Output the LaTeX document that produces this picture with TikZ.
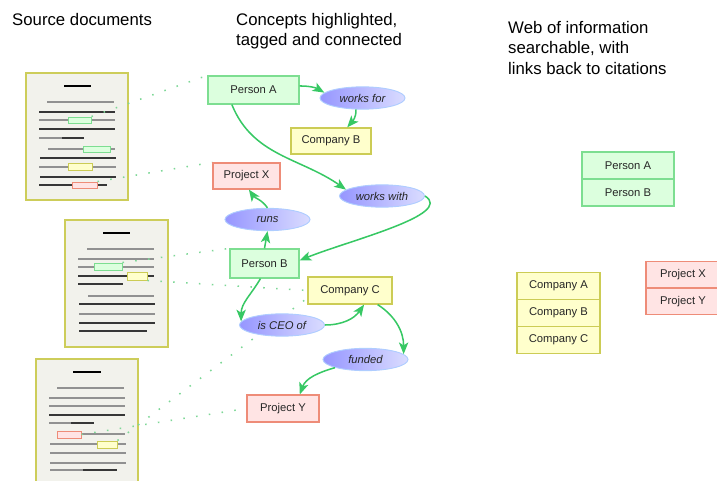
\documentclass[tikz,border=0pt]{standalone}
\usepackage{fontspec}
\setmainfont{Liberation Sans}
\usepackage{xcolor}
\usetikzlibrary{positioning,shapes.geometric,arrows.meta,backgrounds,fit}

\definecolor{persfill}{RGB}{220,255,222}
\definecolor{persline}{RGB}{125,222,145}
\definecolor{compfill}{RGB}{255,255,204}
\definecolor{compline}{RGB}{204,204,85}
\definecolor{projfill}{RGB}{255,228,228}
\definecolor{projline}{RGB}{238,140,120}
\definecolor{relleft}{RGB}{150,150,255}
\definecolor{relright}{RGB}{218,220,255}
\definecolor{relline}{RGB}{175,205,255}
\definecolor{linkgreen}{RGB}{55,200,100}
\definecolor{citegreen}{RGB}{125,215,150}
\definecolor{pagefill}{RGB}{242,242,236}
\definecolor{pageline}{RGB}{205,205,90}
\definecolor{textgray}{RGB}{145,145,145}
\definecolor{textdark}{RGB}{55,55,55}

\begin{document}
\begin{tikzpicture}[
  x=0.03cm, y=-0.03cm,
  node distance=0.81cm,
  every node/.style={font=\fontsize{9.6}{11}\selectfont, text=black!85},
  person/.style={rectangle, draw=persline, fill=persfill, line width=1pt},
  company/.style={rectangle, draw=compline, fill=compfill, line width=1pt},
  project/.style={rectangle, draw=projline, fill=projfill, line width=1pt},
  relation/.style={ellipse, draw=relline, left color=relleft, right color=relright,
    line width=0.8pt, inner sep=0pt, minimum width=2.55cm, minimum height=0.67cm,
    font=\fontsize{9.6}{11}\selectfont\itshape},
  link/.style={->, >={Stealth[length=10pt,width=8pt,inset=2.5pt]}, draw=linkgreen, line width=1.3pt},
  cite/.style={draw=citegreen, line width=1.3pt, dash pattern=on 1.3pt off 9.7pt},
  heading/.style={anchor=north west, inner sep=0pt, align=left, text=black,
    font=\fontsize{14.3}{17.4}\selectfont},
  page/.style={draw=pageline, fill=pagefill, line width=1.2pt},
  grayline/.style={draw=textgray, line width=1.4pt},
  darkline/.style={draw=textdark, line width=1pt},
  titleline/.style={draw=black, line width=1.5pt},
  hlperson/.style={person, inner sep=0pt, line width=0.8pt},
  hlcompany/.style={company, inner sep=0pt, line width=0.8pt},
  hlproject/.style={project, inner sep=0pt, line width=0.8pt}
]
\useasboundingbox (0,0) rectangle (717,481);

% headings
\node (h1) [heading] at (12,13) {Source documents};
\node (h2) [heading] at (236,13) {Concepts highlighted,\\tagged and connected};
\node (h3) [heading] at (508,21) {Web of information\\searchable, with\\links back to citations};

% concepts
\node (pa)  [person, minimum width=2.73cm, minimum height=0.84cm] at (253.5,90) {Person A};
\node (wf)  [relation] at (362.5,98) {works for};
\node (cb)  [company, minimum width=2.4cm, minimum height=0.78cm] at (331,141) {Company B};
\node (px)  [project, minimum width=2.01cm, minimum height=0.78cm] at (246.5,176) {Project X};
\node (ww)  [relation] at (382,196) {works with};
\node (rn)  [relation] at (267.5,219.5) {runs};
\node (pb)  [person, minimum width=2.07cm, minimum height=0.87cm] at (264.5,263.5) {Person B};
\node (cc)  [company, minimum width=2.52cm, minimum height=0.81cm] at (350,290.5) {Company C};
\node (ceo) [relation] at (282,325) {is CEO of};
\node (fd)  [relation] at (365.5,359.5) {funded};
\node (py)  [project, minimum width=2.16cm, minimum height=0.81cm] at (283,408.5) {Project Y};

\draw [link] (pa.5) to[out=0, in=150] (wf.172);
\draw [link] (wf.-120) to[out=-85, in=49] (cb.40);
\draw [link] (pa.-146) to[out=-68, in=145] (ww.170);
\draw [link] (ww.east) to[out=-32, in=22, out distance=30pt, in distance=46pt] (pb.5);
\draw [link] (pb.north) -- (rn.south);
\draw [link] (rn.north) to[out=125, in=-55] (px.-80);
\draw [link] (pb.-105) to[out=-120, in=90] (ceo.175);
\draw [link] (ceo.east) to[out=0, in=-125] (cc.-45);
\draw [link] (cc.-27) to[out=-33, in=90] (fd.8);
\draw [link] (fd.-165) to[out=196, in=70] (py.40);

% web of information
\node (ra)  [person, minimum width=2.76cm, minimum height=0.81cm] at (628,165.5) {Person A};
\node (rb)  [person, minimum width=2.76cm, minimum height=0.81cm, below of=ra] {Person B};

\node (rca) [company, minimum width=2.49cm, minimum height=0.81cm] at (558.5,286) {Company A};
\node (rcb) [company, minimum width=2.49cm, minimum height=0.81cm, below of=rca] {Company B};
\node (rcc) [company, minimum width=2.49cm, minimum height=0.81cm, below of=rcb] {Company C};

\node (rpx) [project, minimum width=2.22cm, minimum height=0.8cm] at (683,274.5) {Project X};
\node (rpy) [project, minimum width=2.22cm, minimum height=0.8cm, below of=rpx] {Project Y};

\begin{scope}[on background layer]
% source document 1
\draw [page] (26,73) rectangle (128,200);
\draw [titleline] (64,86) -- (91,86);
\draw [grayline] (47,102) -- (114,102);
\draw [darkline] (39,112) -- (115,112);
\draw [grayline] (39,120) -- (115,120);
\draw [darkline] (39,129) -- (115,129);
\draw [grayline] (39,138) -- (62,138);
\draw [darkline] (62,138) -- (84,138);
\draw [grayline] (48,149) -- (115,149);
\draw [darkline] (40,158) -- (116,158);
\draw [grayline] (39,167) -- (116,167);
\draw [darkline] (40,177) -- (116,177);
\draw [darkline] (39,185) -- (107,185);
\node (d1a) [hlperson, fit={(68,117) (91,123)}] {};
\node (d1b) [hlperson, fit={(83,146) (110,152)}] {};
\node (d1c) [hlcompany, fit={(68,163) (92,170)}] {};
\node (d1d) [hlproject, fit={(72,182) (97,188)}] {};

% source document 2
\draw [page] (65,220) rectangle (168,347);
\draw [titleline] (103,233) -- (130,233);
\draw [grayline] (87,249) -- (154,249);
\draw [grayline] (78,259) -- (154,259);
\draw [grayline] (78,267) -- (154,267);
\draw [darkline] (78,276) -- (154,276);
\draw [darkline] (78,284) -- (123,284);
\draw [grayline] (88,296) -- (154,296);
\draw [darkline] (79,304) -- (155,304);
\draw [grayline] (79,314) -- (155,314);
\draw [darkline] (79,323) -- (155,323);
\draw [darkline] (79,331) -- (147,331);
\node (d2a) [hlperson, fit={(94,263) (122,270)}] {};
\node (d2b) [hlcompany, fit={(127,272) (147,280)}] {};

% source document 3
\draw [page] (36,359) rectangle (138,495);
\draw [titleline] (73,372) -- (101,372);
\draw [grayline] (57,388) -- (124,388);
\draw [grayline] (49,398) -- (125,398);
\draw [grayline] (49,406) -- (125,406);
\draw [darkline] (49,415) -- (125,415);
\draw [grayline] (49,423) -- (71,423);
\draw [darkline] (71,423) -- (94,423);
\draw [grayline] (81,434) -- (125,434);
\draw [grayline] (50,444) -- (126,444);
\draw [grayline] (50,453) -- (126,453);
\draw [grayline] (50,463) -- (126,463);
\draw [grayline] (50,470) -- (83,470);
\draw [darkline] (83,470) -- (117,470);
\node (d3a) [hlproject, fit={(57,431) (81,438)}] {};
\node (d3b) [hlcompany, fit={(97,441) (117,448)}] {};

% citations
\draw [cite] (d1a.north east) -- (pa.north west);
\draw [cite] (d1d.north east) -- (px.north west);
\draw [cite] (d2a.north east) -- (pb.north west);
\draw [cite] (d2b.south east) -- (cc.west);
\draw [cite] (d3b.north east) -- (cc.190);
\draw [cite] (d3a.east) -- (py.west);
\end{scope}

\end{tikzpicture}
\end{document}
